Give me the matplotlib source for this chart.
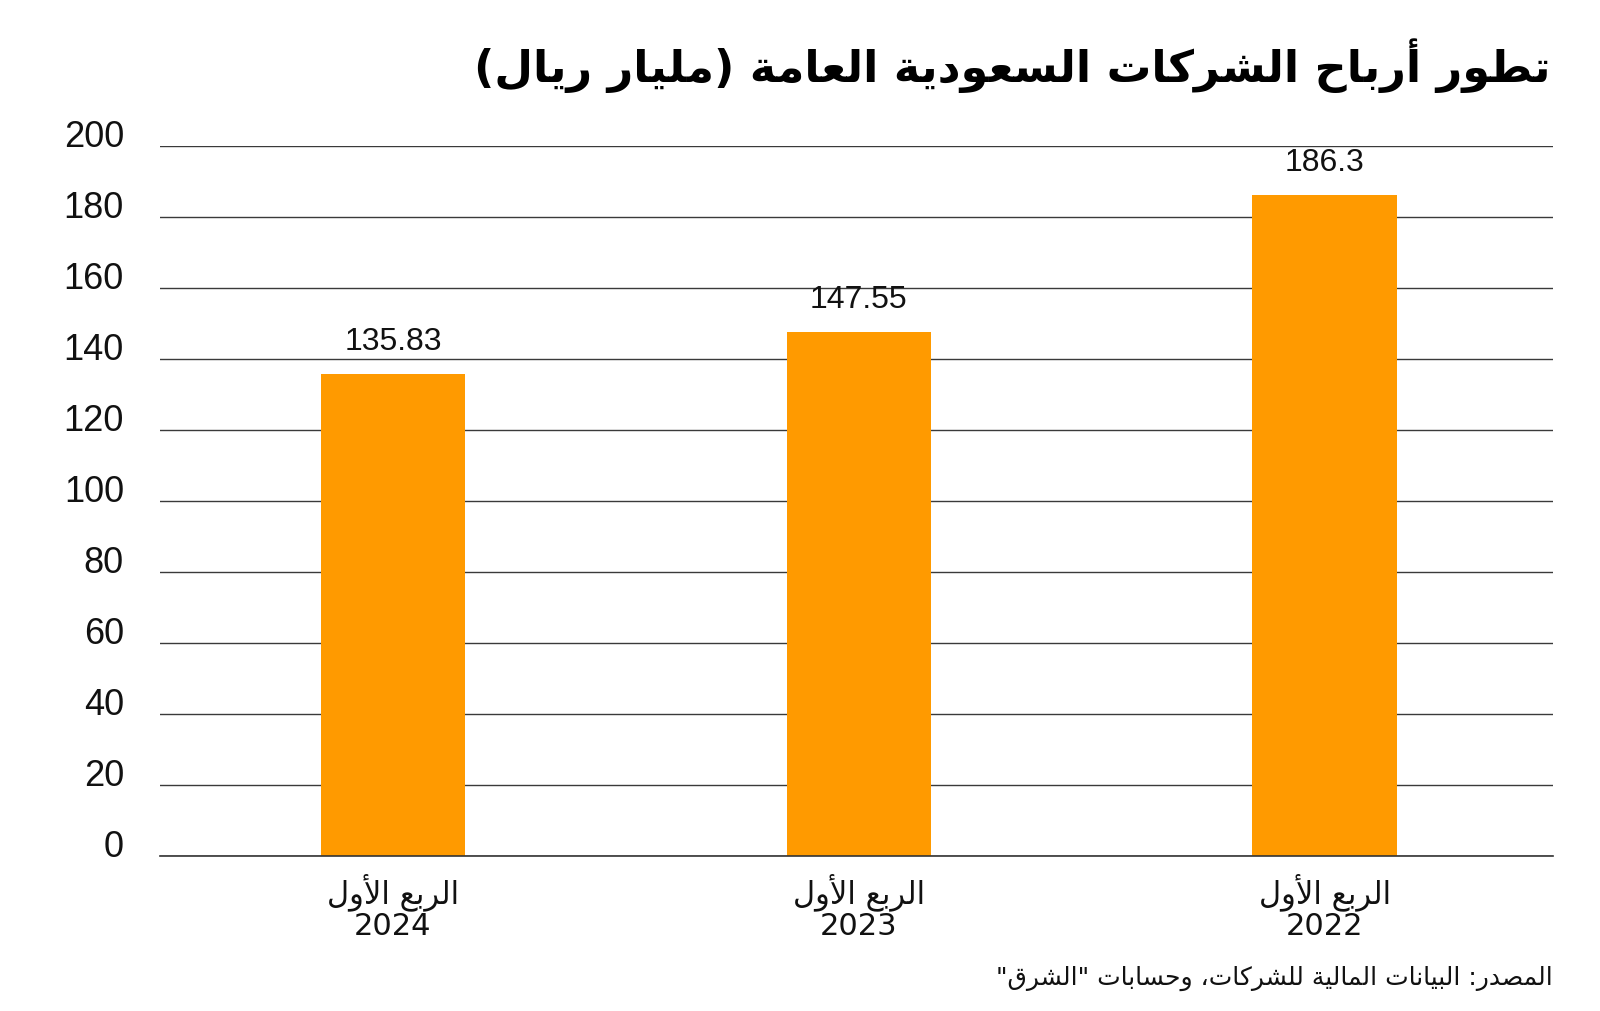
import matplotlib
matplotlib.use("Agg")
from matplotlib import pyplot as plt

# chart data (left to right as in the reference, newest first)
years = ["2024", "2023", "2022"]
periods = ["الربع الأول", "الربع الأول", "الربع الأول"]
profits = [135.83, 147.55, 186.3]
y_ticks = [0, 20, 40, 60, 80, 100, 120, 140, 160, 180, 200]

title = "تطور أرباح الشركات السعودية العامة (مليار ريال)"
source = "المصدر: البيانات المالية للشركات، وحسابات \"الشرق\""

BAR_COLOR = "#FF9A00"
GRID_COLOR = "#3a3a3a"
NUM_FONT = "Liberation Sans"
AR_FONT = "DejaVu Sans"


# --- minimal arabic shaping (matplotlib has no bidi / joining support) ---
BASE = {
    "ء": 0xFE80, "آ": 0xFE81, "أ": 0xFE83, "ؤ": 0xFE85, "إ": 0xFE87, "ئ": 0xFE89,
    "ا": 0xFE8D, "ب": 0xFE8F, "ة": 0xFE93, "ت": 0xFE95, "ث": 0xFE99, "ج": 0xFE9D,
    "ح": 0xFEA1, "خ": 0xFEA5, "د": 0xFEA9, "ذ": 0xFEAB, "ر": 0xFEAD, "ز": 0xFEAF,
    "س": 0xFEB1, "ش": 0xFEB5, "ص": 0xFEB9, "ض": 0xFEBD, "ط": 0xFEC1, "ظ": 0xFEC5,
    "ع": 0xFEC9, "غ": 0xFECD, "ف": 0xFED1, "ق": 0xFED5, "ك": 0xFED9, "ل": 0xFEDD,
    "م": 0xFEE1, "ن": 0xFEE5, "ه": 0xFEE9, "و": 0xFEED, "ى": 0xFEEF, "ي": 0xFEF1,
}
RIGHT_ONLY = set("آأؤإاةدذرزوى")
LAM_ALEF = {"آ": 0xFEF5, "أ": 0xFEF7, "إ": 0xFEF9, "ا": 0xFEFB}
MIRROR = {"(": ")", ")": "("}


def shape(text):
    # tokens: plain chars, or ("LA", alef) for lam-alef ligature
    toks = []
    i = 0
    while i < len(text):
        c = text[i]
        if c == "ل" and i + 1 < len(text) and text[i + 1] in LAM_ALEF:
            toks.append(("LA", text[i + 1]))
            i += 2
        else:
            toks.append(c)
            i += 1

    def joins_prev(t):
        return isinstance(t, tuple) or (t in BASE and t != "ء")

    def joins_next(t):
        return (not isinstance(t, tuple)) and t in BASE and t != "ء" and t not in RIGHT_ONLY

    out = []
    for i, t in enumerate(toks):
        prev_c = i > 0 and joins_next(toks[i - 1]) and joins_prev(t)
        next_c = i < len(toks) - 1 and joins_next(t) and joins_prev(toks[i + 1])
        if isinstance(t, tuple):
            out.append(chr(LAM_ALEF[t[1]] + (1 if prev_c else 0)))
        elif t in BASE:
            if prev_c and next_c:
                form = 3
            elif prev_c:
                form = 1
            elif next_c:
                form = 2
            else:
                form = 0
            out.append(chr(BASE[t] + form))
        else:
            out.append(MIRROR.get(t, t))
    # right-to-left -> visual order
    return "".join(reversed(out))


fig = plt.figure(figsize=(16, 10.12), dpi=100)
ax = fig.add_axes([0.1, 0.1532, 0.8706, 0.7016])

x = list(range(len(profits)))
bars = ax.bar(x, profits, width=0.31, color=BAR_COLOR, zorder=2)

# value labels above bars
for rect, v in zip(bars, profits):
    ax.annotate(f"{v:g}", (rect.get_x() + rect.get_width() / 2, v),
                xytext=(0, 18), textcoords="offset points",
                ha="center", va="baseline", fontsize=23, family=NUM_FONT, color="#111111")

ax.set_xlim(-0.5, 2.49)
ax.set_ylim(0, 200)

# horizontal grid only
ax.set_yticks(y_ticks)
ax.yaxis.grid(True, color=GRID_COLOR, linewidth=1.0, zorder=0)
ax.set_axisbelow(True)
ax.tick_params(axis="y", length=0, pad=26, labelsize=26, labelcolor="#111111")
for lab in ax.get_yticklabels():
    lab.set_family(NUM_FONT)
    lab.set_va("baseline")

ax.set_xticks(x)
ax.set_xticklabels([shape(p) + "\n" + y for p, y in zip(periods, years)],
                   family=AR_FONT, fontsize=22, color="#111111", linespacing=1.05)
ax.tick_params(axis="x", length=0, pad=12)

for side in ["top", "right", "left"]:
    ax.spines[side].set_visible(False)
ax.spines["bottom"].set_color("#333333")
ax.spines["bottom"].set_linewidth(1.2)

# title and source, right aligned
fig.text(0.969, 0.919, shape(title), ha="right", va="baseline",
         family=AR_FONT, fontweight="bold", fontsize=32, color="black")
fig.text(0.9706, 0.027, shape(source), ha="right", va="baseline",
         family=AR_FONT, fontsize=18, color="#111111")

fig.savefig("out.png", dpi=100, facecolor="white")
